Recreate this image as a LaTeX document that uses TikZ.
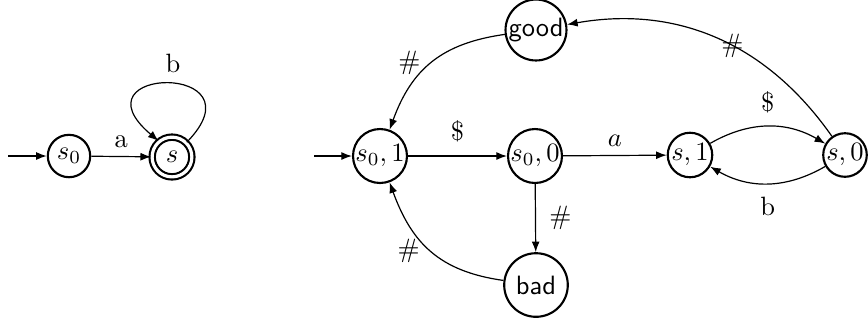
\documentclass[tikz,border=0pt]{standalone}
\usetikzlibrary{arrows.meta}
\begin{document}
\begin{tikzpicture}[x=0.37736pt,y=0.37736pt,
  >={Latex[length=4pt,width=3pt]},
  stnode/.style={circle,draw,thick,inner sep=0pt},
  conn/.style={->,line width=0.45pt},
  lbl/.style={inner sep=1pt}]
\useasboundingbox (0,0) rectangle (868,-325);
% left automaton
\coordinate (in1) at (8,-156);
\node[stnode,minimum size=16pt] (p0) at (69,-156) {$s_0$};
\node[stnode,minimum size=15pt,double,double distance=1.2pt] (p1) at (172,-157) {$s$};
\draw[conn] (in1) -- (p0);
\draw[conn] (p0) -- node[above,lbl,yshift=2pt] {a} (p1);
\draw[conn] (p1.45) .. controls (265,-62) and (70,-66) .. (p1.130);
\node[lbl] (lb) at (173,-63) {b};
% right automaton
\coordinate (in2) at (314,-156);
\node[stnode,minimum size=19.8pt] (q1) at (380,-156) {$s_0,1$};
\node[stnode,minimum size=19.8pt] (q0) at (535,-156) {$s_0,0$};
\node[stnode,minimum size=23pt,font=\sffamily] (gd) at (536,-30) {good};
\node[stnode,minimum size=24pt,font=\sffamily] (bd) at (536,-285) {bad};
\node[stnode,minimum size=16.8pt] (r1) at (690,-155) {$s,1$};
\node[stnode,minimum size=16pt] (r0) at (845,-155) {$s,0$};
\draw[conn] (in2) -- (q1);
\draw[conn] (q1) -- node[above,lbl,yshift=4pt] {\$} (q0);
\draw[conn] (q0) -- node[above,lbl,yshift=2pt] {$a$} (r1);
\draw[conn] (r1) to[bend left=30] node[above,lbl,yshift=4pt] {\$} (r0);
\draw[conn] (r0) to[bend left=30] node[below,lbl,yshift=-4pt] {b} (r1);
\draw[conn] (r0) to[out=125,in=10] node[pos=0.44,lbl] {\#} (gd);
\draw[conn] (gd) to[out=188,in=70,looseness=1.1] node[pos=0.5,left,lbl,xshift=-3pt] {\#} (q1);
\draw[conn] (q0) -- node[right,lbl,xshift=4pt] {\#} (bd);
\draw[conn] (bd) to[out=172,in=-70,looseness=1.1] node[pos=0.5,left,lbl,xshift=-3pt] {\#} (q1);
\end{tikzpicture}
\end{document}
